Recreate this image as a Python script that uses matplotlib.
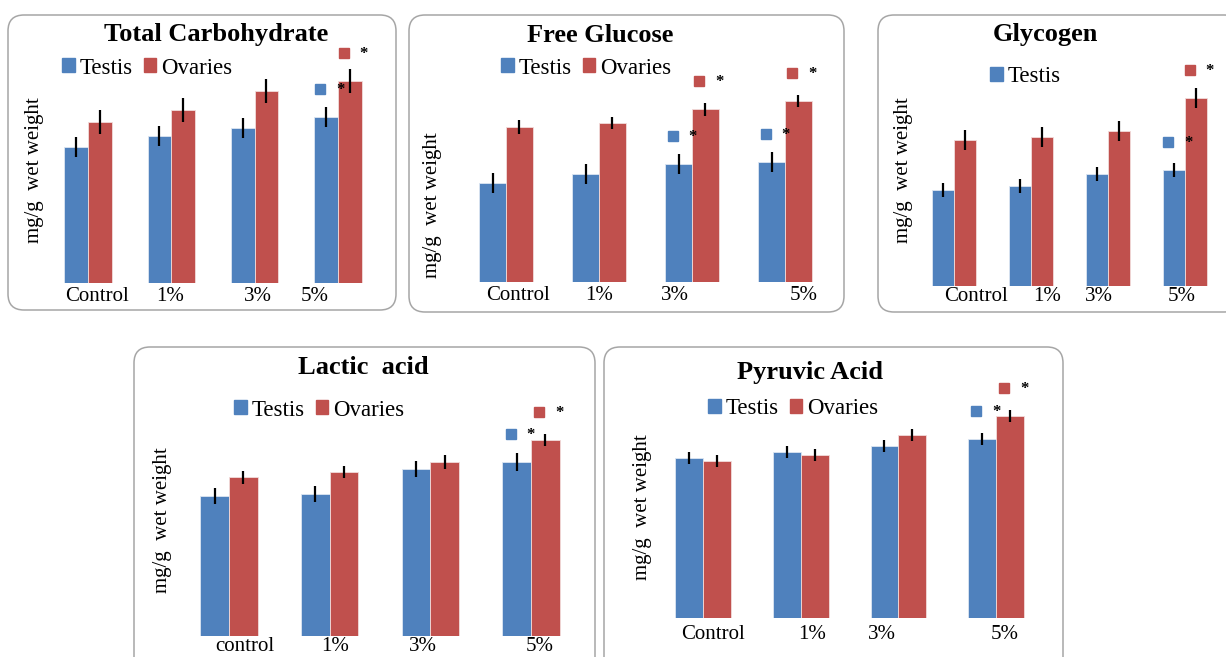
import numpy as np
import matplotlib.pyplot as plt
import matplotlib.transforms as mtransforms
from matplotlib.patches import FancyBboxPatch, Patch

plt.rcParams['font.family'] = ['Liberation Serif', 'DejaVu Serif']

# values (no y scale in the source, arbitrary units)
carb_labels = ['Control', '1%', '3%', '5%']
carb_testis = [136, 147, 155, 166]
carb_ovaries = [161, 173, 192, 202]
carb_testis_err = [10, 10, 10, 10]
carb_ovaries_err = [12, 12, 12, 12]

glu_labels = ['Control', '1%', '3%', '5%']
glu_testis = [99, 108, 118, 120]
glu_ovaries = [155, 159, 173, 181]
glu_testis_err = [10, 10, 10, 10]
glu_ovaries_err = [7, 6, 6.5, 6]

gly_labels = ['Control', '1%', '3%', '5%']
gly_testis = [96, 100, 112, 116]
gly_ovaries = [146, 149, 155, 188]
gly_testis_err = [7, 7, 7, 7]
gly_ovaries_err = [10, 10, 10, 10]

lac_labels = ['control', '1%', '3%', '5%']
lac_testis = [140, 142, 167, 174]
lac_ovaries = [159, 164, 174, 196]
lac_testis_err = [8, 8, 8, 9]
lac_ovaries_err = [6.5, 6, 7, 6]

pyr_labels = ['Control', '1%', '3%', '5%']
pyr_testis = [160, 166, 172, 179]
pyr_ovaries = [157, 163, 183, 202]
pyr_testis_err = [6, 6, 6, 6]
pyr_ovaries_err = [6, 6, 6, 6]

# significant groups (index of dose) for each series
carb_sig = [3]
glu_sig = [2, 3]
gly_sig = [3]
lac_sig = [3]
pyr_sig = [3]

BLUE = '#4F81BD'
RED = '#C0504D'
W, H = 1226, 657

fig = plt.figure(figsize=(W / 100, H / 100), dpi=100)

# layout in pixels: box, first group centre, group spacing, baseline,
# title centre, legend anchor, y-label centre, label centres, label pad
panels = [
    dict(title='Total Carbohydrate', labels=carb_labels, t=carb_testis, o=carb_ovaries,
         te=carb_testis_err, oe=carb_ovaries_err, sig=carb_sig, legend=['Testis', 'Ovaries'],
         box=(8, 15, 396, 310), c0=88, sp=83.3, base=283, tpos=(216, 35),
         lpos=(62, 68), ypos=(35, 170), xl=[97, 170, 258, 315], pad=3),
    dict(title='Free Glucose', labels=glu_labels, t=glu_testis, o=glu_ovaries,
         te=glu_testis_err, oe=glu_ovaries_err, sig=glu_sig, legend=['Testis', 'Ovaries'],
         box=(409, 15, 844, 312), c0=506, sp=93, base=282, tpos=(600, 35),
         lpos=(501, 68), ypos=(433, 205), xl=[518, 599, 675, 804], pad=3),
    dict(title='Glycogen', labels=gly_labels, t=gly_testis, o=gly_ovaries,
         te=gly_testis_err, oe=gly_ovaries_err, sig=gly_sig, legend=['Testis'],
         box=(878, 15, 1240, 312), c0=954, sp=77, base=286, tpos=(1045, 35),
         lpos=(990, 77), ypos=(903, 170), xl=[976, 1047, 1099, 1182], pad=1),
    dict(title='Lactic  acid', labels=lac_labels, t=lac_testis, o=lac_ovaries,
         te=lac_testis_err, oe=lac_ovaries_err, sig=lac_sig, legend=['Testis', 'Ovaries'],
         box=(134, 347, 595, 680), c0=229, sp=100.7, base=636, tpos=(363, 367),
         lpos=(234, 410), ypos=(163, 520), xl=[245, 335, 423, 540], pad=1),
    dict(title='Pyruvic Acid', labels=pyr_labels, t=pyr_testis, o=pyr_ovaries,
         te=pyr_testis_err, oe=pyr_ovaries_err, sig=pyr_sig, legend=['Testis', 'Ovaries'],
         box=(604, 347, 1063, 680), c0=703, sp=97.7, base=618, tpos=(810, 373),
         lpos=(708, 409), ypos=(642, 507), xl=[713, 812, 882, 1005], pad=5),
]

AX_H = 230
bw = 0.285

for p in panels:
    x0, y0, x1, y1 = p['box']
    box = FancyBboxPatch((x0 / 100, (H - y1) / 100), (x1 - x0) / 100, (y1 - y0) / 100,
                         boxstyle='round,pad=0,rounding_size=0.16',
                         transform=fig.dpi_scale_trans, fc='white', ec='#a6a6a6',
                         lw=1.1, zorder=-5)
    fig.add_artist(box)

    left = p['c0'] - p['sp'] / 2
    width = p['sp'] * 4
    ax = fig.add_axes([left / W, 1 - p['base'] / H, width / W, AX_H / H])
    ax.set_facecolor('none')
    x = np.arange(4)
    ekw = dict(ecolor='black', elinewidth=1.6, capsize=0)
    ax.bar(x - bw / 2, p['t'], bw, yerr=p['te'], color=BLUE, edgecolor='#dce6f2',
           linewidth=0.6, error_kw=ekw)
    ax.bar(x + bw / 2, p['o'], bw, yerr=p['oe'], color=RED, edgecolor='#f2dcdb',
           linewidth=0.6, error_kw=ekw)
    ax.set_xlim(-0.5, 3.5)
    ax.set_ylim(0, AX_H)
    for s in ax.spines.values():
        s.set_visible(False)
    ax.set_yticks([])
    ax.set_xticks([(c - p['c0']) / p['sp'] for c in p['xl']])
    ax.set_xticklabels(p['labels'], fontsize=15)
    ax.tick_params(axis='x', length=0, pad=p['pad'])

    # significance flags: small square + asterisk above the bar
    sq = mtransforms.offset_copy(ax.transData, fig=fig, x=-6, y=28, units='dots')
    st = mtransforms.offset_copy(ax.transData, fig=fig, x=14, y=27, units='dots')
    for g in p['sig']:
        for xc, val, col in [(g - bw / 2, p['t'][g], BLUE), (g + bw / 2, p['o'][g], RED)]:
            ax.plot(xc, val, marker='s', ms=7.5, color=col, transform=sq, clip_on=False)
            ax.text(xc, val, '*', transform=st, ha='center', va='center', fontsize=12,
                    fontweight='bold', clip_on=False)

    fig.text(p['tpos'][0] / W, 1 - p['tpos'][1] / H, p['title'], ha='center', va='center',
             fontsize=19, fontweight='bold')
    fig.text(p['ypos'][0] / W, 1 - p['ypos'][1] / H, 'mg/g  wet weight', rotation=90,
             ha='center', va='center', fontsize=15)
    handles = [Patch(color=BLUE), Patch(color=RED)][:len(p['legend'])]
    fig.legend(handles, p['legend'], loc='center left',
               bbox_to_anchor=(p['lpos'][0] / W, 1 - p['lpos'][1] / H),
               ncol=2, frameon=False, fontsize=16.5, borderpad=0, borderaxespad=0,
               handlelength=0.55, handleheight=0.55, handletextpad=0.2, columnspacing=0.5)

fig.savefig('out.png', dpi=100)
